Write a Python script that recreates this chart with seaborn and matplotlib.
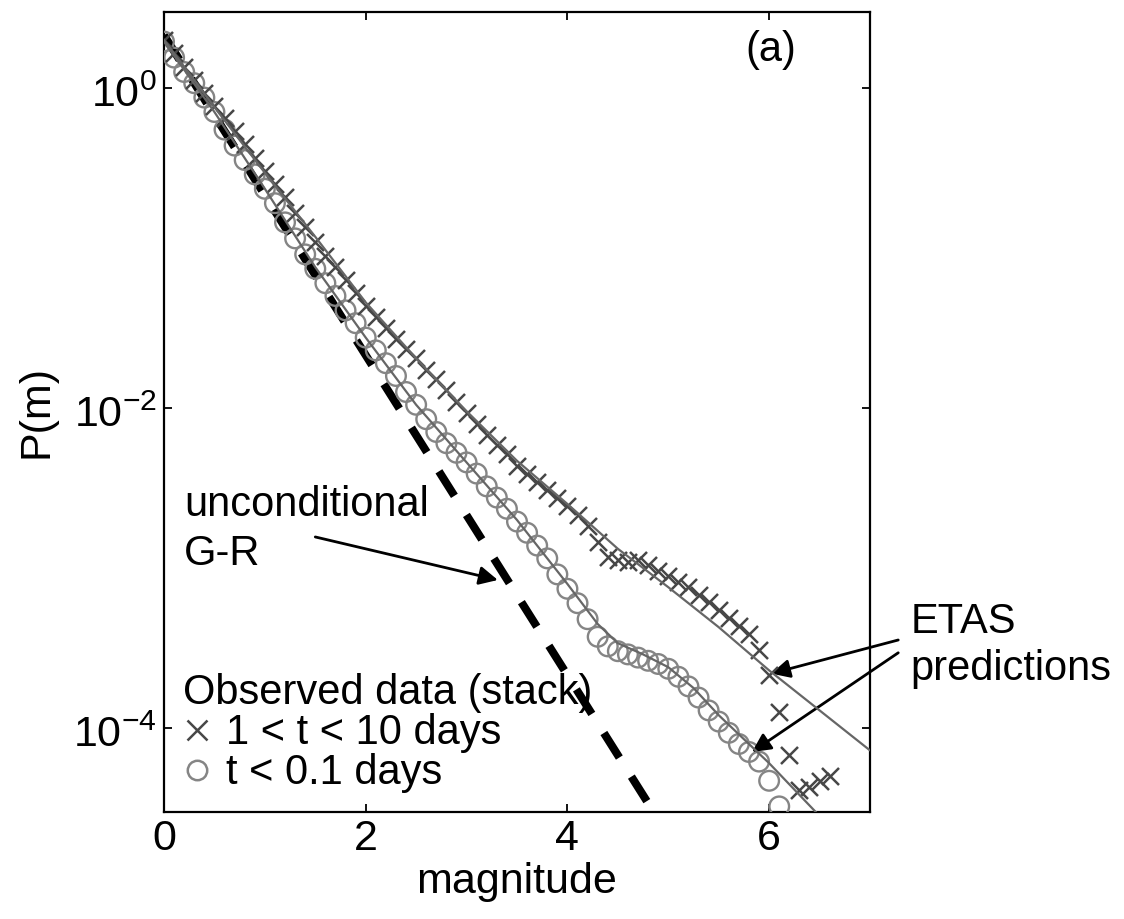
import numpy as np
import pandas as pd
import matplotlib
matplotlib.use("Agg")
import matplotlib.pyplot as plt
import matplotlib.transforms as mtransforms
import seaborn as sns
from matplotlib.lines import Line2D

# ---------------- data ----------------
cross_m = [0.0, 0.1, 0.2, 0.3, 0.4, 0.5, 0.6, 0.7, 0.8, 0.9,
           1.0, 1.1, 1.2, 1.3, 1.4, 1.5, 1.6, 1.7, 1.8, 1.9,
           2.0, 2.1, 2.2, 2.3, 2.4, 2.5, 2.6, 2.7, 2.8, 2.9,
           3.0, 3.1, 3.2, 3.3, 3.4, 3.5, 3.6, 3.7, 3.8, 3.9,
           4.0, 4.1, 4.2, 4.3, 4.4, 4.5, 4.6, 4.7, 4.8, 4.9,
           5.0, 5.1, 5.2, 5.3, 5.4, 5.5, 5.6, 5.7, 5.8, 5.9,
           6.0, 6.1, 6.2, 6.3, 6.4, 6.5, 6.6]
cross_log10p = [0.30, 0.22, 0.13, 0.05, -0.03, -0.11, -0.19, -0.27, -0.35, -0.44,
                -0.52, -0.60, -0.68, -0.78, -0.87, -0.96, -1.05, -1.12, -1.20, -1.28,
                -1.36, -1.43, -1.50, -1.57, -1.63, -1.69, -1.76, -1.82, -1.89, -1.96,
                -2.03, -2.10, -2.17, -2.23, -2.29, -2.36, -2.41, -2.46, -2.51, -2.56,
                -2.61, -2.67, -2.74, -2.84, -2.93, -2.95, -2.96, -2.95, -2.98, -3.02,
                -3.05, -3.09, -3.12, -3.17, -3.21, -3.26, -3.31, -3.36, -3.41, -3.51,
                -3.67, -3.90, -4.17, -4.39, -4.37, -4.33, -4.30]

circ_m = [0.0, 0.1, 0.2, 0.3, 0.4, 0.5, 0.6, 0.7, 0.8, 0.9,
          1.0, 1.1, 1.2, 1.3, 1.4, 1.5, 1.6, 1.7, 1.8, 1.9,
          2.0, 2.1, 2.2, 2.3, 2.4, 2.5, 2.6, 2.7, 2.8, 2.9,
          3.0, 3.1, 3.2, 3.3, 3.4, 3.5, 3.6, 3.7, 3.8, 3.9,
          4.0, 4.1, 4.2, 4.3, 4.4, 4.5, 4.6, 4.7, 4.8, 4.9,
          5.0, 5.1, 5.2, 5.3, 5.4, 5.5, 5.6, 5.7, 5.8, 5.9,
          6.0, 6.1]
circ_log10p = [0.29, 0.19, 0.10, 0.03, -0.06, -0.15, -0.26, -0.36, -0.45, -0.54,
               -0.63, -0.72, -0.84, -0.94, -1.04, -1.13, -1.22, -1.30, -1.39, -1.47,
               -1.56, -1.64, -1.72, -1.80, -1.90, -1.98, -2.07, -2.15, -2.22, -2.28,
               -2.34, -2.41, -2.49, -2.56, -2.63, -2.71, -2.78, -2.86, -2.94, -3.04,
               -3.13, -3.22, -3.32, -3.43, -3.49, -3.52, -3.54, -3.56, -3.58, -3.60,
               -3.63, -3.68, -3.74, -3.81, -3.89, -3.96, -4.03, -4.10, -4.15, -4.21,
               -4.33, -4.49]

etas_cross_m = [0.0, 0.5, 1.0, 1.5, 2.0, 2.5, 3.0, 3.5, 4.0, 4.5, 5.0, 5.5, 6.0, 6.5, 7.0]
etas_cross_log10p = [0.30, -0.12, -0.53, -0.93, -1.34, -1.69, -2.02, -2.33, -2.60,
                     -2.88, -3.12, -3.37, -3.64, -3.89, -4.14]

etas_circ_m = [0.0, 0.5, 1.0, 1.5, 2.0, 2.5, 3.0, 3.5, 4.0, 4.3, 4.5, 4.75, 5.0,
               5.25, 5.5, 6.0, 6.5]
etas_circ_log10p = [0.29, -0.15, -0.63, -1.12, -1.56, -1.98, -2.34, -2.70, -3.10,
                    -3.35, -3.47, -3.54, -3.62, -3.75, -3.92, -4.22, -4.55]

gr_m = [0.0, 5.0]
gr_log10p = [0.33, -4.67]

xticks = [0, 2, 4, 6]
yticks = [1e0, 1e-2, 1e-4]
ytick_labels = [r"$10^{0}$", r"$10^{-2}$", r"$10^{-4}$"]

legend_title = "Observed data (stack)"
label_cross = "1 < t < 10 days"
label_circ = "t < 0.1 days"

# ---------------- style ----------------
sns.set_style("ticks")
plt.rcParams["font.family"] = ["Liberation Sans", "DejaVu Sans"]
plt.rcParams["mathtext.fontset"] = "custom"
plt.rcParams["mathtext.rm"] = "Liberation Sans"
plt.rcParams["mathtext.it"] = "Liberation Sans"
plt.rcParams["mathtext.default"] = "regular"
plt.rcParams["text.color"] = "black"
plt.rcParams["axes.labelcolor"] = "black"
plt.rcParams["xtick.color"] = "black"
plt.rcParams["ytick.color"] = "black"

FS_TICK = 31
FS_LAB = 31
FS_TXT = 30
c_cross = "#474747"
c_circ = "#858585"
c_line = "#666666"

fig = plt.figure(figsize=(11.24, 9.19), dpi=100)
ax = fig.add_axes([164 / 1124, 1 - 812 / 919, 706 / 1124, 800 / 919])

cross_df = pd.DataFrame({"m": cross_m, "P": 10 ** np.array(cross_log10p)})
circ_df = pd.DataFrame({"m": circ_m, "P": 10 ** np.array(circ_log10p)})
etas_c_df = pd.DataFrame({"m": etas_cross_m, "P": 10 ** np.array(etas_cross_log10p)})
etas_o_df = pd.DataFrame({"m": etas_circ_m, "P": 10 ** np.array(etas_circ_log10p)})
gr_df = pd.DataFrame({"m": gr_m, "P": 10 ** np.array(gr_log10p)})

ax.set_yscale("log")

sns.lineplot(data=gr_df, x="m", y="P", ax=ax, color="black", lw=5.8,
             sort=False, estimator=None, zorder=2)
ax.lines[-1].set_dashes([3.6, 2.8])
ax.lines[-1].set_dash_capstyle("butt")

sns.scatterplot(data=circ_df, x="m", y="P", ax=ax, marker="o", s=200,
                facecolors="none", edgecolor=c_circ, linewidth=1.7, zorder=3)
sns.scatterplot(data=cross_df, x="m", y="P", ax=ax, marker="x", s=150,
                color=c_cross, linewidth=1.8, zorder=4)
sns.lineplot(data=etas_c_df, x="m", y="P", ax=ax, color=c_line, lw=1.6,
             sort=False, estimator=None, zorder=5)
sns.lineplot(data=etas_o_df, x="m", y="P", ax=ax, color=c_line, lw=1.6,
             sort=False, estimator=None, zorder=5)

ax.set_xlim(0, 7)
ax.set_ylim(2.985e-5, 2.985)
ax.set_xticks(xticks)
ax.set_xticklabels([str(t) for t in xticks])
ax.set_yticks(yticks)
ax.set_yticklabels(ytick_labels)
ax.yaxis.set_minor_locator(matplotlib.ticker.NullLocator())
ax.tick_params(axis="both", which="major", direction="in", length=6, width=1.3,
               labelsize=FS_TICK, top=True, right=True, colors="black")
ax.tick_params(axis="x", pad=5)
ax.tick_params(axis="y", pad=5)
offset = mtransforms.ScaledTranslation(0, -3 / 100, fig.dpi_scale_trans)
for lab in ax.get_yticklabels():
    lab.set_transform(lab.get_transform() + offset)
for sp in ax.spines.values():
    sp.set_visible(True)
    sp.set_linewidth(1.6)
    sp.set_color("black")

ax.set_xlabel("magnitude", fontsize=FS_LAB, labelpad=2, color="black")
ax.set_ylabel("P(m)", fontsize=FS_LAB, labelpad=12, color="black")

# legend
handles = [Line2D([], [], ls="none", marker="x", color=c_cross, ms=14, mew=1.8),
           Line2D([], [], ls="none", marker="o", mfc="none", mec=c_circ, ms=14, mew=1.8)]
leg = ax.legend(handles, [label_cross, label_circ], title=legend_title,
                loc="lower left", bbox_to_anchor=(0.0, 0.0), frameon=False,
                fontsize=FS_TXT, title_fontsize=FS_TXT, alignment="left",
                handlelength=0.7, handletextpad=0.35, labelspacing=0.0,
                borderaxespad=0.25, borderpad=0.2, labelcolor="black")
leg.get_title().set_color("black")

# panel label
ax.text(0.86, 0.953, "(a)", transform=ax.transAxes, fontsize=FS_TXT,
        ha="center", va="center", color="black")

# annotations
ax.text(0.2, 10 ** -2.98, "unconditional\nG-R", fontsize=FS_TXT, ha="left",
        va="baseline", linespacing=1.27, color="black")
ax.annotate("", xy=(3.31, 10 ** -3.075), xytext=(1.50, 10 ** -2.806),
            arrowprops=dict(arrowstyle="-|>", color="black", lw=2, mutation_scale=28,
                            shrinkA=0, shrinkB=0))
ax.text(7.4, 10 ** -3.70, "ETAS\npredictions", fontsize=FS_TXT, ha="left",
        va="baseline", linespacing=1.22, clip_on=False, color="black")
ax.annotate("", xy=(6.02, 10 ** -3.66), xytext=(7.28, 10 ** -3.45),
            arrowprops=dict(arrowstyle="-|>", color="black", lw=2, mutation_scale=28,
                            shrinkA=0, shrinkB=0), annotation_clip=False)
ax.annotate("", xy=(5.83, 10 ** -4.15), xytext=(7.28, 10 ** -3.53),
            arrowprops=dict(arrowstyle="-|>", color="black", lw=2, mutation_scale=28,
                            shrinkA=0, shrinkB=0), annotation_clip=False)

fig.savefig("out.png", dpi=100)
